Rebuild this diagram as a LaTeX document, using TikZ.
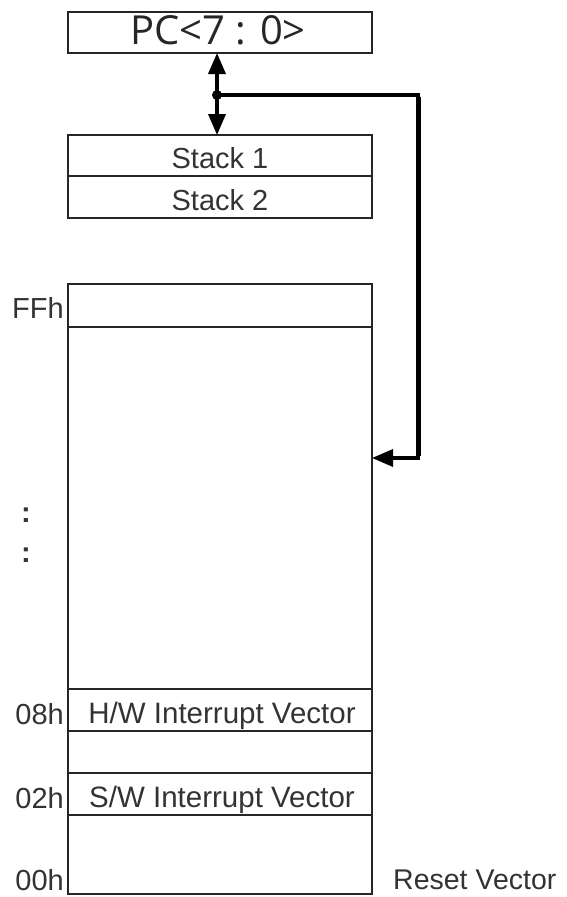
\documentclass[tikz,border=0pt]{standalone}
\usepackage{fontspec}
\setmainfont{Liberation Sans}
\newfontfamily\pcfont{Open Sans}
\usetikzlibrary{arrows.meta}
\begin{document}
\begin{tikzpicture}[x=1pt,y=-1pt,
  cell/.style={draw=black!85,line width=1.4pt,rectangle,minimum width=304pt,inner sep=0pt,outer sep=0pt},
  lbl/.style={text=black!80,font=\fontsize{29.5}{29.5}\selectfont,inner sep=0pt,anchor=base},
  side/.style={text=black!80,font=\fontsize{29}{29}\selectfont,inner sep=0pt,anchor=base east},
  bus/.style={line width=3.5pt,black},
  tip/.style={-{Triangle[length=21pt,width=17pt]}}]
\useasboundingbox (0,0) rectangle (567,897);
% PC register
\node[cell,minimum height=41pt] (pc) at (220,32.5) {};
\node[text=black!85,font=\pcfont\fontsize{40}{40}\selectfont,inner sep=0pt,anchor=base] (pct) at (218,44) {PC<7 : 0>};
% stack
\node[cell,minimum height=41pt] (s1) at (220,155.5) {};
\node[cell,minimum height=42pt] (s2) at (220,197) {};
\node[lbl,font=\fontsize{29}{29}\selectfont] (s1t) at (220,168) {Stack 1};
\node[lbl,font=\fontsize{29}{29}\selectfont] (s2t) at (220,210) {Stack 2};
% memory
\node[cell,minimum height=610pt] (mem) at (220,589) {};
\node[cell,minimum height=43pt] (rff) at (220,305.5) {};
\node[cell,minimum height=42pt] (rhw) at (220,710) {};
\node[cell,minimum height=42pt] (rsw) at (220,794) {};
\node[lbl] (hwt) at (222,723) {H/W Interrupt Vector};
\node[lbl] (swt) at (222,807) {S/W Interrupt Vector};
% side labels
\node[side] (ff) at (64,318) {FFh};
\node[side] (h08) at (64,724) {08h};
\node[side] (h02) at (64,808) {02h};
\node[side] (h00) at (64,890) {00h};
\node[side,anchor=base,font=\bfseries\fontsize{29}{29}\selectfont] (d1) at (26,522) {:};
\node[side,anchor=base,font=\bfseries\fontsize{29}{29}\selectfont] (d2) at (26,562) {:};
\node[lbl,anchor=base west,font=\fontsize{28.5}{28.5}\selectfont] (rv) at (393,889) {Reset Vector};
% connectors
\coordinate (j) at (217,95);
\coordinate (c1) at (418,95);
\coordinate (c2) at (418,458);
\draw[bus,{Triangle[length=21pt,width=17pt]}-{Triangle[length=21pt,width=17pt]}] (pc.south -| j) -- (s1.north -| j);
\fill (j) circle (5pt);
\draw[bus,tip] (j) -- (c1) -- (c2) -- (mem.east |- c2);
\draw[line width=5pt] ([yshift=-1.75pt]c1) -- ([yshift=1.75pt]c2);
\end{tikzpicture}
\end{document}
